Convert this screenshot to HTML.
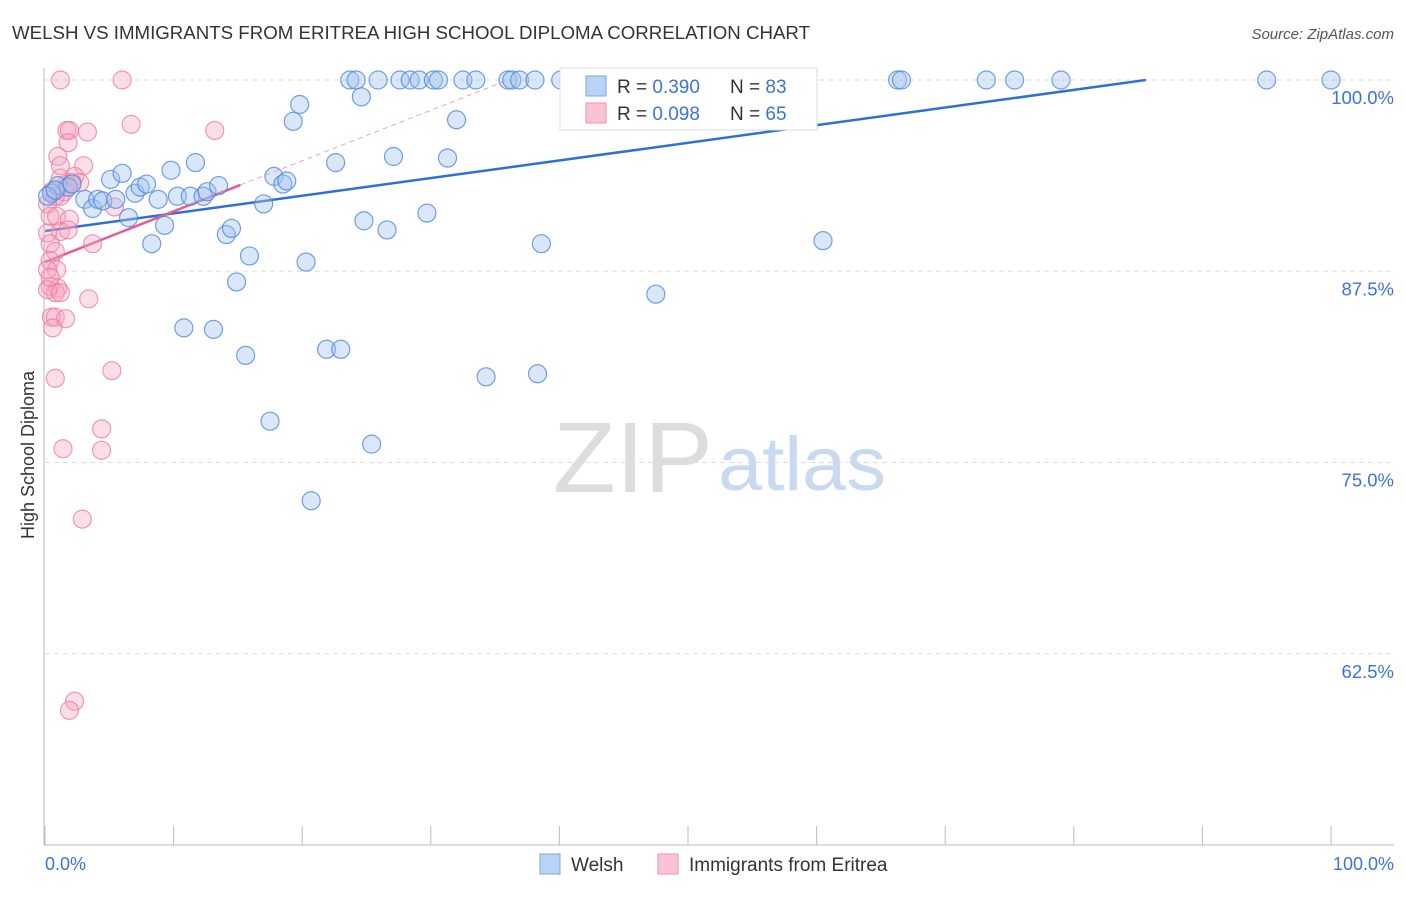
<!DOCTYPE html>
<html><head><meta charset="utf-8"><style>
body{margin:0;background:#fff;font-family:"Liberation Sans",sans-serif;}
svg text{font-family:"Liberation Sans",sans-serif;}
</style></head><body>
<svg id="chart" width="1406" height="892">
<text x="12" y="39" font-size="18" fill="#333" textLength="798" lengthAdjust="spacingAndGlyphs">WELSH VS IMMIGRANTS FROM ERITREA HIGH SCHOOL DIPLOMA CORRELATION CHART</text>
<text x="1394" y="39" font-size="15" fill="#555" font-style="italic" text-anchor="end">Source: ZipAtlas.com</text>
<text x="0" y="0" transform="translate(34,455) rotate(-90)" font-size="18" fill="#333" text-anchor="middle">High School Diploma</text>
<g><text x="553" y="492" font-size="100" fill="#ddd" font-family="Liberation Serif,serif" textLength="160" lengthAdjust="spacingAndGlyphs">ZIP</text><text x="718" y="490" font-size="76" fill="#c8d9f0" textLength="168" lengthAdjust="spacingAndGlyphs">atlas</text></g>
<g id="grid"></g><g id="axes"></g><g id="lines"></g><g id="pts"></g>
<g>
<rect x="560" y="68" width="257" height="62" fill="#fff" stroke="#ddd"/>
<rect x="586" y="76" width="20" height="20" fill="#b9d3f5" stroke="#7aa6e6"/>
<text x="617" y="93" font-size="19" fill="#333">R = <tspan fill="#3b74d6">0.390</tspan></text>
<text x="730" y="93" font-size="19" fill="#333">N = <tspan fill="#3b74d6">83</tspan></text>
<rect x="586" y="103" width="20" height="20" fill="#f9c3d4" stroke="#ef8fae"/>
<text x="617" y="120" font-size="19" fill="#333">R = <tspan fill="#3b74d6">0.098</tspan></text>
<text x="730" y="120" font-size="19" fill="#333">N = <tspan fill="#3b74d6">65</tspan></text>
</g>
<g>
<rect x="540" y="854" width="20" height="20" fill="#b9d3f5" stroke="#7aa6e6"/>
<text x="571" y="871" font-size="19" fill="#333">Welsh</text>
<rect x="658" y="854" width="20" height="20" fill="#f9c3d4" stroke="#ef8fae"/>
<text x="689" y="871" font-size="19" fill="#333">Immigrants from Eritrea</text>
</g>
<text x="45" y="870" font-size="18" fill="#3b74d6">0.0%</text>
<text x="1394" y="870" font-size="18" fill="#3b74d6" text-anchor="end">100.0%</text>
</svg>
<script>
const yTicks=[100,87.5,75,62.5];
const yTickLabels=["100.0%","87.5%","75.0%","62.5%"];
const xTicks=[0,10,20,30,40,50,60,70,80,90,100];
const welshX=[0.5,1,1.8,2.1,3.1,3.7,4.1,4.5,5.1,5.5,6,6.5,7,7.4,7.9,8.3,8.8,9.3,9.8,10.3,10.8,11.3,11.7,12.3,12.6,13.1,13.5,14.1,14.5,14.9,15.6,15.9,17,17.5,17.8,18.5,18.8,19.3,19.8,20.3,20.7,21.9,22.6,23,23.7,24.2,24.6,24.8,25.4,25.9,26.6,27.1,27.6,28.4,29.1,29.7,30.2,30.6,31.3,32.0,32.5,33.5,34.3,36,36.3,36.9,38.1,38.3,38.6,40.1,41.1,45.6,47.5,54,60.5,66.3,66.6,73.2,75.4,79,95,100,0.2,0.8];
const welshY=[92.6,93.1,93.0,93.2,92.2,91.6,92.2,92.1,93.5,92.2,93.9,91.0,92.6,93.0,93.2,89.3,92.2,90.5,94.1,92.4,83.8,92.4,94.6,92.4,92.7,83.7,93.1,89.9,90.3,86.8,82.0,88.5,91.9,77.7,93.7,93.2,93.4,97.3,98.4,88.1,72.5,82.4,94.6,82.4,100,100,98.9,90.8,76.2,100,90.2,95.0,100,100,100,91.3,100,100,94.9,97.4,100,100,80.6,100,100,100,100,80.8,89.3,100,100,100,86.0,100,89.5,100,100,100,100,100,100,100,92.4,92.8];
const eritreaX=[1.2,6,1.7,1.9,3.3,6.7,13.2,1.8,1,3,1.2,1.2,2.3,2.7,1.7,2.1,0.5,1.2,0.2,0.4,0.9,1.9,1.2,1.8,0.2,3.7,0.4,0.8,0.4,0.9,0.2,0.4,1,0.8,3.4,0.5,0.8,1.6,0.6,5.2,0.8,4.4,1.4,4.4,2.9,2.3,1.9,5.4,0.2,0.4,1.2,0.8,1.5];
const eritreaY=[100,100,96.7,96.7,96.6,97.1,96.7,95.9,95.0,94.4,94.4,93.6,93.7,93.3,93.2,93.3,92.7,92.4,91.9,91.1,91.1,90.9,90.1,90.2,90.0,89.3,89.3,88.8,88.2,87.6,87.6,86.5,86.4,86.1,85.7,84.5,84.5,84.4,83.8,81.0,80.5,77.2,75.9,75.8,71.3,59.4,58.8,91.7,86.3,87.1,86.1,92.4,92.7];
const X=v=>45+v*12.86, Y=v=>80+(100-v)*15.3;
const ns="http://www.w3.org/2000/svg";
function mk(t,a,p){const e=document.createElementNS(ns,t);for(const k in a)e.setAttribute(k,a[k]);document.getElementById(p).appendChild(e);return e;}
yTicks.forEach((t,i)=>{
 const l=mk('line',{x1:45,x2:1394,y1:Y(t),y2:Y(t),stroke:'#ddd','stroke-dasharray':'5,4'},'grid');
 
 
 const tx=mk('text',{x:1394,y:Y(t)+24,'font-size':18.5,fill:'#3b74d6','text-anchor':'end'},'grid');
 tx.textContent=yTickLabels[i];
 
 
});
const ax=mk('line',{x1:44,x2:44,y1:68,y2:845,stroke:'#bbb'},'axes');


const bx=mk('line',{x1:44,x2:1394,y1:845,y2:845,stroke:'#bbb'},'axes');


xTicks.forEach(t=>{const l=mk('line',{x1:X(t),x2:X(t),y1:826,y2:845,stroke:'#bbb'},'axes');
 
 });
eritreaX.forEach((x,i)=>{const c=mk('circle',{cx:X(x),cy:Y(eritreaY[i]),r:9,fill:'rgba(246,160,190,0.35)',stroke:'rgba(236,120,160,0.75)','stroke-width':1.2},'pts');
 
 });
welshX.forEach((x,i)=>{const c=mk('circle',{cx:X(x),cy:Y(welshY[i]),r:9,fill:'rgba(160,195,240,0.4)',stroke:'rgba(80,135,220,0.8)','stroke-width':1.2},'pts');
 
 });
const bl=mk('line',{x1:X(0),y1:Y(90.13),x2:X(85.6),y2:Y(100),stroke:'#2f6fd6','stroke-width':2.5},'lines');


const pl=mk('line',{x1:X(0),y1:Y(88.1),x2:X(15.2),y2:Y(93.14),stroke:'#e85c8a','stroke-width':2.5},'lines');


const pd=mk('line',{x1:X(15.2),y1:Y(93.14),x2:X(36),y2:Y(100),stroke:'#eea0bb','stroke-width':1,'stroke-dasharray':'5,4'},'lines');


</script>
</body></html>
